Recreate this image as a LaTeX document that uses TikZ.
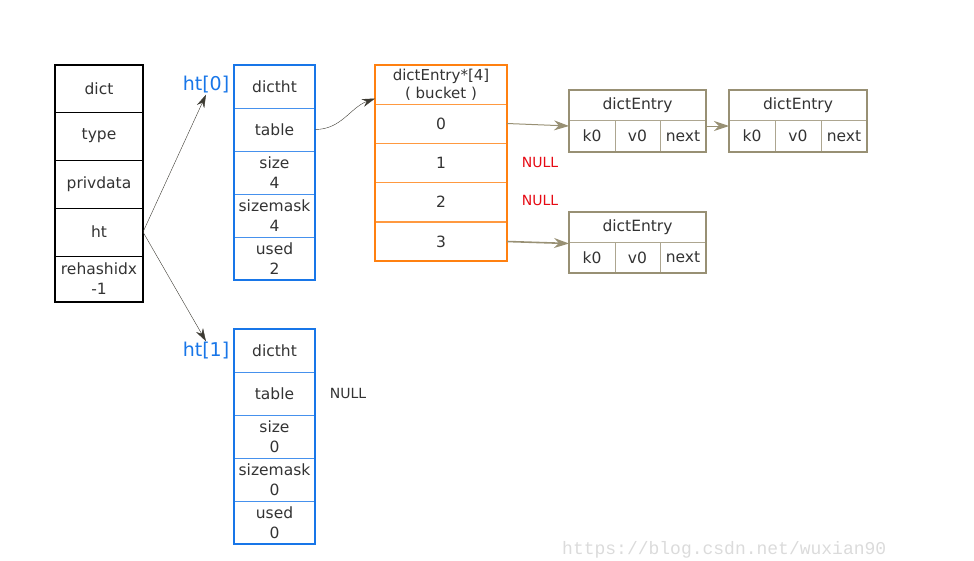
\documentclass[tikz,border=0pt]{standalone}
\usepackage{fontspec}
\setmainfont{DejaVu Sans}
\newfontfamily\wmfont{Liberation Mono}
\usetikzlibrary{arrows.meta}
\definecolor{htblue}{RGB}{24,118,232}
\definecolor{bucketorange}{RGB}{255,128,16}
\definecolor{entrytan}{RGB}{152,144,116}
\definecolor{nullred}{RGB}{230,10,20}
\definecolor{arrowgray}{RGB}{60,58,50}
\tikzset{
  cell/.style={draw, rectangle, inner sep=0pt, outer sep=0pt, align=center,
    font=\fontsize{15.5}{20}\selectfont, text=black!80},
  dictcell/.style={cell, draw=black, minimum width=88pt},
  htcell/.style={cell, draw=htblue!80, minimum width=81pt, minimum height=43pt},
  bucketcell/.style={cell, draw=bucketorange!80, minimum width=132pt, minimum height=39pt},
  entrycell/.style={cell, draw=entrytan!80, minimum height=31pt},
  htlabel/.style={text=htblue, font=\fontsize{19}{22}\selectfont, inner sep=1pt},
  nulltext/.style={font=\fontsize{14}{16}\selectfont, inner sep=0pt},
  ptr/.style={draw=arrowgray, -{Stealth[length=13pt,width=8pt]}},
  entryptr/.style={draw=entrytan, -{Stealth[length=15pt,width=10pt]}},
}
\begin{document}
\begin{tikzpicture}[x=1pt,y=-1pt]
\useasboundingbox (0,0) rectangle (974,560);
% dict
\node[dictcell, minimum height=47pt] (dict) at (99,88.5) {dict};
\node[dictcell, minimum height=48pt] (type) at (99,136) {type};
\node[dictcell, minimum height=48pt] (privdata) at (99,184) {privdata};
\node[dictcell, minimum height=48pt] (ht) at (99,232) {ht};
\node[dictcell, minimum height=46pt] (rehash) at (99,279) {rehashidx\\-1};
\draw[line width=1.6pt] (dict.north west) rectangle (rehash.south east);
% ht[0]
\node[htlabel] (ht0) at (206,85) {ht[0]};
\node[htcell] (h0dictht) at (274.5,86.5) {dictht};
\node[htcell] (h0table) at (274.5,129.5) {table};
\node[htcell] (h0size) at (274.5,172.5) {size\\4};
\node[htcell] (h0mask) at (274.5,215.5) {sizemask\\4};
\node[htcell] (h0used) at (274.5,258.5) {used\\2};
\draw[htblue, line width=1.6pt] (h0dictht.north west) rectangle (h0used.south east);
% ht[1]
\node[htlabel] (ht1) at (206,351) {ht[1]};
\node[htcell] (h1dictht) at (274.5,350.5) {dictht};
\node[htcell] (h1table) at (274.5,393.5) {table};
\node[htcell] (h1size) at (274.5,436.5) {size\\0};
\node[htcell] (h1mask) at (274.5,479.5) {sizemask\\0};
\node[htcell] (h1used) at (274.5,522.5) {used\\0};
\draw[htblue, line width=1.6pt] (h1dictht.north west) rectangle (h1used.south east);
\node[nulltext, text=black!80] (h1null) at (348,393) {NULL};
% bucket
\node[bucketcell, font=\fontsize{15}{18}\selectfont] (bhead) at (441,84.5) {dictEntry*[4]\\( bucket )};
\node[bucketcell] (b0) at (441,123.5) {0};
\node[bucketcell] (b1) at (441,162.5) {1};
\node[bucketcell] (b2) at (441,201.5) {2};
\node[bucketcell] (b3) at (441,241.5) {3};
\draw[bucketorange, line width=1.6pt] (bhead.north west) rectangle (b3.south east);
\node[nulltext, text=nullred] (null1) at (540,162) {NULL};
\node[nulltext, text=nullred] (null2) at (540,200) {NULL};
% dictEntry boxes
\node[entrycell, minimum width=137pt, minimum height=30pt] (e1) at (637.5,105) {dictEntry};
\node[entrycell, minimum width=46pt, minimum height=32pt] (e1k) at (592,136) {k0};
\node[entrycell, minimum width=45pt, minimum height=32pt] (e1v) at (637.5,136) {v0};
\node[entrycell, minimum width=46pt, minimum height=32pt] (e1n) at (683,136) {next};
\draw[entrytan, line width=1.6pt] (e1.north west) rectangle (e1n.south east);
\node[entrycell, minimum width=138pt, minimum height=30pt] (e2) at (798,105) {dictEntry};
\node[entrycell, minimum width=46pt, minimum height=32pt] (e2k) at (752,136) {k0};
\node[entrycell, minimum width=46pt, minimum height=32pt] (e2v) at (798,136) {v0};
\node[entrycell, minimum width=46pt, minimum height=32pt] (e2n) at (844,136) {next};
\draw[entrytan, line width=1.6pt] (e2.north west) rectangle (e2n.south east);
\node[entrycell, minimum width=137pt, minimum height=30pt] (e3) at (637.5,227) {dictEntry};
\node[entrycell, minimum width=46pt, minimum height=31pt] (e3k) at (592,257.5) {k0};
\node[entrycell, minimum width=45pt, minimum height=31pt] (e3v) at (637.5,257.5) {v0};
\node[entrycell, minimum width=46pt, minimum height=31pt] (e3n) at (683,257.5) {next};
\draw[entrytan, line width=1.6pt] (e3.north west) rectangle (e3n.south east);
% pointers
\draw[ptr] (ht.east) -- (ht0.south);
\draw[ptr] (ht.east) -- (ht1.north);
\draw[ptr] (h0table.east) to[out=0,in=200] ([yshift=-14pt]bhead.west);
\draw[entryptr, line width=1pt] (b0.east) -- ([yshift=10pt]e1k.west);
\draw[entryptr, line width=1pt] ([yshift=10pt]e1n.east) -- ([yshift=10pt]e2k.west);
\draw[entryptr, line width=1.6pt] (b3.east) -- ([yshift=14pt]e3k.west);
% watermark
\node[anchor=base west, inner sep=0pt, text=black!14, font=\wmfont\fontsize{18}{20}\selectfont] (mark) at (562,554) {https://blog.csdn.net/wuxian90};
\end{tikzpicture}
\end{document}
